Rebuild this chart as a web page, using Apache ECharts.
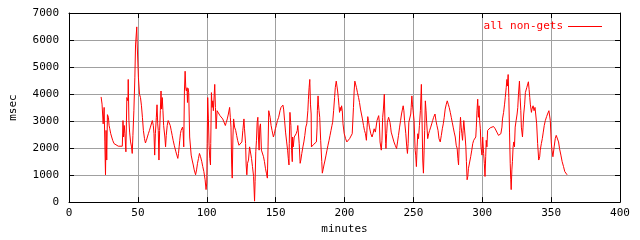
<!DOCTYPE html>
<html>
<head>
<meta charset="utf-8">
<script src="https://cdn.jsdelivr.net/npm/echarts@6/dist/echarts.min.js"></script>
<style>html,body{margin:0;padding:0;background:#fff;}#c{width:640px;height:240px;}</style>
</head>
<body>
<div id="c"></div>
<script>
var seriesName = "all non-gets";
var xTitle = "minutes";
var yTitle = "msec";
var minutes = [
23.3,24.0,24.8,25.5,26.0,26.5,26.9,27.4,27.9,28.6,29.1,29.6,30.3,31.0,31.7,32.7,33.4,35.8,38.7,39.2,39.6,40.1,40.6,41.3,42.0,42.8,43.0,43.5,44.0,44.7,45.4,45.9,46.4,47.1,47.8,48.3,48.8,49.2,49.5,50.0,50.4,51.2,51.9,52.6,53.3,54.0,54.8,55.5,56.2,56.9,57.6,58.4,59.1,59.8,60.5,61.2,61.7,62.2,62.7,63.4,63.9,64.4,64.8,65.3,65.8,66.3,66.8,67.2,67.7,68.2,68.7,69.2,69.6,70.1,70.6,71.3,72.0,72.8,73.5,74.2,74.9,75.6,76.4,77.1,77.6,78.3,79.0,79.5,80.0,80.4,80.9,81.4,81.9,82.4,82.8,83.3,83.8,84.3,84.8,85.2,85.7,86.0,86.4,86.9,
87.6,88.7,89.4,90.2,90.9,91.9,92.6,93.3,94.0,94.7,95.5,96.4,97.1,97.9,98.8,99.5,100.0,100.3,100.7,101.2,101.7,102.2,102.7,102.9,103.4,103.9,104.4,104.8,105.8,106.3,106.8,107.5,108.4,109.6,110.6,111.6,112.5,113.5,114.2,114.9,115.7,116.6,117.1,117.6,118.1,118.5,119.0,119.5,120.2,121.0,121.7,122.4,123.4,124.1,124.8,125.5,126.2,127.0,127.4,128.2,128.6,129.1,129.6,130.3,131.1,131.8,132.5,133.2,134.0,134.7,135.1,135.6,136.1,136.6,137.1,137.5,138.0,138.5,139.0,139.7,140.4,141.2,141.9,142.6,143.3,144.0,144.5,145.0,145.5,146.0,146.7,147.4,148.4,149.1,149.8,150.5,151.3,152.2,153.2,153.9,
155.3,155.8,156.5,157.2,158.0,158.7,159.2,159.7,159.9,160.4,160.9,161.1,161.6,162.1,162.3,162.8,163.5,164.2,164.9,165.7,166.1,166.6,167.1,167.8,168.3,169.0,169.8,170.5,171.2,171.9,172.6,173.4,173.8,174.3,174.8,175.3,175.8,176.0,176.7,177.7,178.7,179.6,180.1,180.3,180.8,181.1,181.5,182.0,182.7,183.5,183.9,184.4,185.1,185.9,186.6,187.3,188.0,188.8,189.5,190.2,190.9,191.4,192.1,192.8,193.3,194.0,194.5,195.0,195.5,196.0,196.4,196.9,197.4,197.9,198.4,198.9,199.8,200.8,201.7,202.7,203.7,204.6,205.6,206.1,206.5,207.0,207.5,208.0,208.7,209.4,210.2,210.9,211.6,212.3,213.0,213.8,214.5,215.2,215.9,216.4,216.9,217.4,218.1,219.1,220.0,220.7,221.5,
222.4,223.6,224.8,225.3,225.8,226.2,226.7,227.2,227.7,228.2,228.9,229.4,229.9,230.1,230.6,231.1,231.5,232.0,232.5,233.0,233.5,233.9,234.9,235.9,236.8,237.8,238.5,239.2,240.0,240.7,241.4,242.1,242.6,243.1,243.6,244.5,245.2,245.7,246.2,246.7,247.4,248.1,248.4,248.9,249.3,249.8,250.5,251.3,251.7,252.2,252.7,253.2,253.7,254.4,255.1,255.8,256.3,256.8,257.3,257.8,258.2,258.7,259.2,259.7,260.4,261.1,261.8,262.6,263.3,264.0,264.7,265.7,266.4,267.1,267.9,268.6,269.5,270.3,271.0,271.7,272.4,273.1,273.9,274.6,275.3,276.0,276.8,277.5,278.2,278.9,279.6,280.4,281.1,281.8,282.3,282.8,283.2,283.7,284.2,284.7,285.2,285.7,286.1,286.6,287.1,287.6,288.1,288.5,289.0,289.5,290.0,
290.9,291.6,292.4,293.1,293.8,294.3,294.8,295.3,295.7,296.2,296.7,297.2,297.7,298.1,298.6,299.1,299.8,300.3,301.0,301.5,302.0,302.5,302.9,303.4,303.9,304.6,305.8,307.0,308.2,309.4,310.6,311.8,312.8,313.5,314.3,314.7,315.5,316.2,316.7,317.4,317.9,318.3,318.8,319.3,319.8,320.3,320.7,321.0,321.5,321.9,322.4,322.9,323.4,323.9,324.6,325.3,325.8,326.3,327.0,327.5,328.0,328.4,329.2,329.6,330.1,330.8,331.3,331.8,332.3,333.5,334.0,334.5,334.9,335.7,336.1,336.9,337.6,338.3,338.8,339.5,340.2,341.0,341.7,342.1,342.9,343.6,344.3,345.0,345.8,346.7,347.4,348.4,348.9,349.4,350.1,350.6,351.3,351.8,352.2,353.0,353.7,354.2,354.7,355.4,356.1,357.1,358.0,359.0,359.9,361.6
];
var msec = [
3894,3626,2896,3505,2227,1010,2653,1557,3237,3140,2835,2714,2531,2410,2288,2166,2105,2069,2069,3018,2410,2835,2531,1862,3870,3748,4540,3018,2592,2227,2044,1801,2470,3383,4600,5817,5878,6486,5853,5841,4600,3991,3870,3565,3140,2653,2349,2190,2288,2410,2531,2653,2775,2835,3018,2835,2531,1740,2531,3140,3602,2896,2653,1557,2653,3383,4113,3444,3870,3383,2835,2896,2410,2044,2470,2835,3018,2957,2835,2653,2470,2288,2105,2044,1862,1740,1618,1801,2069,2288,2531,2653,2714,2775,2653,2044,4113,4844,4211,4113,4235,3687,4211,4053,
2410,1740,1557,1375,1192,1010,1192,1436,1618,1801,1679,1497,1314,1131,827,462,706,2166,3870,3079,2105,1618,1375,2166,4053,3505,3748,3383,4357,3505,2714,3383,3322,3200,3140,3079,3018,2835,2957,3079,3261,3505,3140,2775,1375,888,2410,3079,2775,2653,2470,2288,2105,2044,2105,2227,2653,3079,2714,2166,1375,1010,1436,1557,2044,1983,1618,1314,949,36,767,1862,2288,2957,3140,2410,1923,2775,2896,1923,1983,1679,1497,1253,1071,888,2044,3383,3444,3140,2835,2653,2410,2531,2714,2835,3018,3140,3383,3505,
3590,3444,3018,2592,2227,1923,1618,1375,2166,3322,2957,2835,1923,1497,2410,2044,2410,2470,2531,2653,2835,2775,2166,1436,1557,1801,2044,2227,2470,2775,2896,3383,3809,4235,4540,3626,3261,2044,2105,2142,2190,2227,2775,3383,3931,3626,3383,3140,2288,1497,1071,1192,1375,1557,1740,1923,2105,2288,2470,2653,2835,2957,3383,3870,4235,4478,4296,4113,3870,3565,3322,3505,3383,3565,3383,2896,2531,2349,2227,2264,2349,2410,2531,2592,3505,4113,4478,4418,4235,4053,3870,3687,3444,3261,3079,2835,2653,2531,2288,2775,3164,3018,2775,2531,2410,2531,2714,
2592,3018,3200,2957,2227,2166,1923,2288,3140,3407,3991,2957,2166,1983,2531,2957,3018,3140,3079,2957,2775,2592,2410,2227,2105,1983,2227,2470,2775,3018,3261,3444,3565,3383,3018,2531,2044,1801,2166,2957,3018,3261,3505,3931,3626,3383,3018,1923,1740,1314,2044,2531,2349,2835,3383,4357,3018,1557,1071,1923,2653,3748,3383,2896,2349,2531,2653,2775,2896,3018,3140,3261,3018,2835,2653,2349,2227,2470,2714,2896,3140,3444,3626,3748,3626,3505,3322,3140,2957,2775,2592,2410,2105,1983,1618,1375,2044,2653,3140,2775,2531,2288,2653,3018,2957,2410,2044,1497,827,949,1253,
1314,1679,1923,2166,2288,2349,2227,2410,2775,3383,3809,3140,3565,3018,2714,2044,1740,2410,1801,1436,949,1679,2288,2044,2653,2714,2750,2775,2799,2714,2592,2470,2410,2531,2775,3079,3322,3626,3870,4235,4540,4296,4722,3870,2592,1436,827,462,1192,1497,2044,2227,2044,2775,3018,3261,3505,3991,4478,3870,3383,2775,2410,2775,3261,3626,4053,4113,4235,4454,4174,3870,3626,3322,3444,3565,3383,3505,3261,2896,2166,1557,1679,1923,2166,2349,2592,2835,3018,3164,3261,3383,3407,3018,2227,1923,1679,1618,2044,2349,2470,2531,2410,2227,1983,1740,1497,1314,1131,1010
];
var xTicks = {min: 0, max: 400, interval: 50};
var yTicks = {min: 0, max: 7000, interval: 1000};

var pts = minutes.map(function (m, i) { return [m, msec[i]]; });
var FONT = "DejaVu Sans Mono";
var chart = echarts.init(document.getElementById('c'), null, {renderer: 'canvas'});
var tickStyle = {show: true, inside: true, length: 5, lineStyle: {color: '#000', width: 1}};
var lineAxis = {show: true, onZero: false, lineStyle: {color: '#000', width: 1}};
var plain = function (v) { return String(v); };
chart.setOption({
  animation: false,
  backgroundColor: '#fff',
  grid: {left: 66, right: 20, top: 13, bottom: 34, containLabel: false},
  legend: {
    show: true, right: 33, top: 16, align: 'right', icon: 'rect',
    itemWidth: 34, itemHeight: 1, itemGap: 10,
    textStyle: {color: '#ff0000', fontFamily: FONT, fontSize: 11},
    data: [seriesName]
  },
  xAxis: [
    {type: 'value', position: 'bottom', min: xTicks.min, max: xTicks.max, interval: xTicks.interval,
     name: xTitle, nameLocation: 'middle', nameGap: 21,
     nameTextStyle: {color: '#000', fontFamily: FONT, fontSize: 11},
     axisLine: lineAxis, axisTick: tickStyle,
     axisLabel: {color: '#000', fontFamily: FONT, fontSize: 11, margin: 6, formatter: plain, showMinLabel: true, showMaxLabel: true},
     splitLine: {show: true, lineStyle: {color: '#a0a0a0', width: 1}}},
    {type: 'value', position: 'top', min: xTicks.min, max: xTicks.max, interval: xTicks.interval,
     axisLine: lineAxis, axisTick: tickStyle, axisLabel: {show: false}, splitLine: {show: false}}
  ],
  yAxis: [
    {type: 'value', position: 'left', min: yTicks.min, max: yTicks.max, interval: yTicks.interval,
     name: yTitle, nameLocation: 'middle', nameGap: 50,
     nameTextStyle: {color: '#000', fontFamily: FONT, fontSize: 11},
     axisLine: lineAxis, axisTick: tickStyle,
     axisLabel: {color: '#000', fontFamily: FONT, fontSize: 11, margin: 10, formatter: plain, showMinLabel: true, showMaxLabel: true},
     splitLine: {show: true, lineStyle: {color: '#a0a0a0', width: 1}}},
    {type: 'value', position: 'right', min: yTicks.min, max: yTicks.max, interval: yTicks.interval,
     axisLine: lineAxis, axisTick: tickStyle, axisLabel: {show: false}, splitLine: {show: false}}
  ],
  series: [{
    name: seriesName, type: 'line', xAxisIndex: 0, yAxisIndex: 0,
    data: pts, showSymbol: false, symbol: 'none',
    lineStyle: {color: '#ff0000', width: 1}, itemStyle: {color: '#ff0000'}
  }]
});
</script>
</body>
</html>
